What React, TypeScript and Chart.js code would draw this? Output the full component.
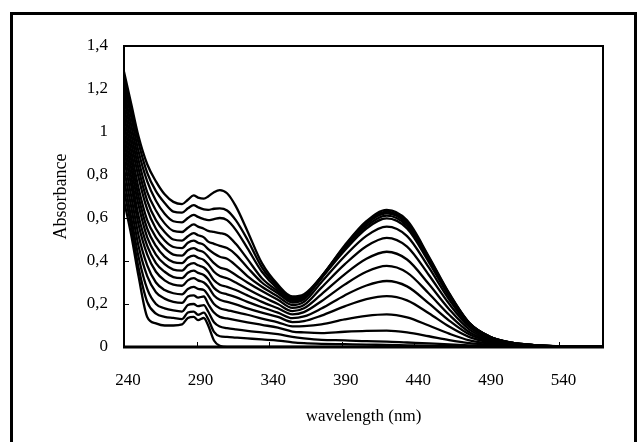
import { useEffect, useRef } from 'react';
import { Chart, registerables } from 'chart.js';

Chart.register(...registerables);

// wavelength grid (nm)
const wavelength = [240, 245, 250, 256, 262, 268, 274, 280, 284, 288, 291, 295, 298, 302, 306, 311, 317, 325, 335, 346, 356, 364, 376, 392, 407, 421, 435, 450, 464, 478, 492, 507, 524, 544, 570];

const xTickValues = [240, 290, 340, 390, 440, 490, 540];
const yTickValues = [0, 0.2, 0.4, 0.6, 0.8, 1, 1.2, 1.4];
const yTickLabels = ['0', '0,2', '0,4', '0,6', '0,8', '1', '1,2', '1,4'];

// absorbance spectra, lowest (s01) to highest (s16)
const s01 = [0.68, 0.52, 0.33, 0.14, 0.11, 0.10, 0.10, 0.105, 0.135, 0.14, 0.125, 0.135, 0.10, 0.03, 0.005, 0, 0, 0, 0, 0, 0, 0, 0, 0, 0, 0, 0, 0, 0, 0, 0, 0, 0, 0, 0];
const s02 = [0.73, 0.56, 0.37, 0.21, 0.155, 0.14, 0.135, 0.13, 0.16, 0.165, 0.15, 0.16, 0.13, 0.07, 0.05, 0.047, 0.044, 0.04, 0.035, 0.03, 0.022, 0.018, 0.015, 0.013, 0.011, 0.010, 0.008, 0.006, 0.005, 0.003, 0.002, 0.001, 0, 0, 0];
const s03 = [0.78, 0.60, 0.42, 0.27, 0.20, 0.18, 0.17, 0.165, 0.195, 0.20, 0.19, 0.195, 0.165, 0.115, 0.095, 0.088, 0.082, 0.075, 0.068, 0.06, 0.047, 0.04, 0.033, 0.031, 0.027, 0.025, 0.021, 0.017, 0.012, 0.008, 0.005, 0.002, 0.001, 0, 0];
const s04 = [0.83, 0.65, 0.47, 0.33, 0.255, 0.225, 0.21, 0.205, 0.235, 0.24, 0.23, 0.235, 0.20, 0.16, 0.14, 0.133, 0.125, 0.115, 0.103, 0.09, 0.072, 0.068, 0.065, 0.071, 0.075, 0.076, 0.068, 0.050, 0.032, 0.018, 0.010, 0.005, 0.002, 0.001, 0];
const s05 = [0.88, 0.70, 0.52, 0.38, 0.30, 0.265, 0.25, 0.245, 0.27, 0.28, 0.27, 0.265, 0.24, 0.20, 0.18, 0.172, 0.162, 0.15, 0.132, 0.115, 0.096, 0.097, 0.105, 0.128, 0.145, 0.152, 0.138, 0.100, 0.062, 0.031, 0.016, 0.007, 0.003, 0.001, 0];
const s06 = [0.92, 0.75, 0.57, 0.43, 0.35, 0.31, 0.29, 0.285, 0.31, 0.32, 0.31, 0.30, 0.28, 0.24, 0.22, 0.21, 0.198, 0.18, 0.16, 0.14, 0.116, 0.12, 0.146, 0.189, 0.223, 0.237, 0.217, 0.157, 0.095, 0.046, 0.022, 0.010, 0.004, 0.001, 0];
const s07 = [0.96, 0.79, 0.61, 0.47, 0.39, 0.35, 0.325, 0.32, 0.345, 0.355, 0.345, 0.335, 0.315, 0.275, 0.255, 0.245, 0.232, 0.21, 0.185, 0.16, 0.134, 0.142, 0.179, 0.240, 0.286, 0.307, 0.282, 0.203, 0.123, 0.058, 0.026, 0.011, 0.005, 0.001, 0];
const s08 = [1.00, 0.83, 0.66, 0.51, 0.43, 0.385, 0.36, 0.355, 0.38, 0.39, 0.38, 0.37, 0.35, 0.31, 0.29, 0.28, 0.265, 0.24, 0.21, 0.18, 0.152, 0.162, 0.213, 0.290, 0.350, 0.377, 0.346, 0.249, 0.150, 0.069, 0.031, 0.013, 0.006, 0.002, 0];
const s09 = [1.04, 0.87, 0.70, 0.55, 0.47, 0.42, 0.395, 0.39, 0.415, 0.425, 0.415, 0.405, 0.385, 0.35, 0.33, 0.32, 0.30, 0.27, 0.235, 0.20, 0.167, 0.18, 0.245, 0.338, 0.410, 0.443, 0.407, 0.293, 0.176, 0.081, 0.036, 0.015, 0.006, 0.002, 0];
const s10 = [1.08, 0.91, 0.74, 0.59, 0.51, 0.46, 0.43, 0.425, 0.45, 0.46, 0.45, 0.44, 0.42, 0.39, 0.37, 0.36, 0.335, 0.30, 0.26, 0.22, 0.182, 0.195, 0.276, 0.384, 0.469, 0.508, 0.467, 0.335, 0.201, 0.092, 0.040, 0.017, 0.007, 0.002, 0];
const s11 = [1.12, 0.95, 0.79, 0.64, 0.55, 0.495, 0.465, 0.46, 0.485, 0.495, 0.485, 0.475, 0.455, 0.435, 0.42, 0.41, 0.38, 0.33, 0.28, 0.235, 0.195, 0.21, 0.301, 0.422, 0.517, 0.560, 0.516, 0.370, 0.221, 0.100, 0.044, 0.018, 0.008, 0.003, 0];
const s12 = [1.16, 0.99, 0.83, 0.68, 0.59, 0.535, 0.50, 0.495, 0.515, 0.53, 0.52, 0.51, 0.49, 0.48, 0.47, 0.46, 0.43, 0.37, 0.30, 0.25, 0.207, 0.222, 0.319, 0.449, 0.551, 0.598, 0.551, 0.395, 0.236, 0.107, 0.047, 0.020, 0.008, 0.003, 0];
const s13 = [1.19, 1.03, 0.87, 0.72, 0.635, 0.575, 0.54, 0.535, 0.555, 0.57, 0.56, 0.55, 0.54, 0.535, 0.53, 0.52, 0.48, 0.41, 0.32, 0.26, 0.215, 0.228, 0.322, 0.457, 0.562, 0.611, 0.563, 0.403, 0.241, 0.109, 0.047, 0.020, 0.008, 0.003, 0];
const s14 = [1.22, 1.07, 0.91, 0.77, 0.68, 0.62, 0.585, 0.58, 0.60, 0.615, 0.605, 0.595, 0.59, 0.595, 0.60, 0.59, 0.545, 0.46, 0.35, 0.27, 0.222, 0.235, 0.327, 0.465, 0.572, 0.622, 0.573, 0.411, 0.245, 0.110, 0.048, 0.020, 0.008, 0.003, 0];
const s15 = [1.25, 1.10, 0.95, 0.81, 0.725, 0.67, 0.63, 0.625, 0.645, 0.66, 0.65, 0.64, 0.638, 0.643, 0.645, 0.635, 0.59, 0.50, 0.37, 0.28, 0.228, 0.24, 0.327, 0.468, 0.579, 0.630, 0.581, 0.416, 0.248, 0.111, 0.048, 0.020, 0.008, 0.003, 0];
const s16 = [1.28, 1.13, 0.98, 0.85, 0.77, 0.71, 0.675, 0.665, 0.685, 0.705, 0.695, 0.69, 0.70, 0.72, 0.73, 0.715, 0.655, 0.54, 0.39, 0.29, 0.235, 0.245, 0.328, 0.472, 0.585, 0.638, 0.589, 0.421, 0.251, 0.112, 0.048, 0.019, 0.008, 0.003, 0];

const spectra = [s01, s02, s03, s04, s05, s06, s07, s08, s09, s10, s11, s12, s13, s14, s15, s16];

const FONT = "'Liberation Serif', 'Times New Roman', serif";

const framePlugin = {
  id: 'frame',
  afterDatasetsDraw(chart: any) {
    const { ctx, chartArea: a, scales } = chart;
    ctx.save();
    ctx.strokeStyle = '#000';
    ctx.lineWidth = 1;
    ctx.beginPath();
    for (const v of xTickValues) {
      if (v === 240) continue;
      const px = Math.round(scales.x.getPixelForValue(v)) + 0.5;
      ctx.moveTo(px, a.bottom);
      ctx.lineTo(px, a.bottom - 5);
    }
    for (const v of yTickValues) {
      if (v === 0) continue;
      const py = Math.round(scales.y.getPixelForValue(v)) + 0.5;
      ctx.moveTo(a.left, py);
      ctx.lineTo(a.left + 5, py);
    }
    ctx.stroke();
    ctx.lineWidth = 2;
    ctx.strokeRect(a.left, a.top, a.right - a.left, a.bottom - a.top);
    ctx.lineWidth = 3;
    ctx.beginPath();
    ctx.moveTo(a.left - 1, a.bottom);
    ctx.lineTo(a.right + 1, a.bottom);
    ctx.stroke();
    ctx.restore();
  },
};

export default function App() {
  const canvasRef = useRef<HTMLCanvasElement | null>(null);

  useEffect(() => {
    if (!canvasRef.current) return;
    const chart = new Chart(canvasRef.current, {
      type: 'line',
      data: {
        datasets: spectra.map((s, i) => ({
          label: `spectrum ${i + 1}`,
          data: wavelength.map((w, j) => ({ x: w, y: s[j] })),
          borderColor: '#000',
          borderWidth: 2.3,
          pointRadius: 0,
          fill: false,
          cubicInterpolationMode: 'monotone' as const,
        })),
      },
      options: {
        animation: false,
        responsive: false,
        devicePixelRatio: 1,
        layout: { padding: { left: 0, top: 46, right: 34, bottom: 0 } },
        plugins: { legend: { display: false }, tooltip: { enabled: false } },
        scales: {
          x: {
            type: 'linear',
            min: 240,
            max: 570,
            afterBuildTicks: (s: any) => {
              s.ticks = xTickValues.map((v) => ({ value: v }));
            },
            afterFit: (s: any) => {
              s.height = 95;
            },
            grid: { display: false, drawTicks: false },
            border: { display: false },
            ticks: {
              color: '#000',
              font: { family: FONT, size: 17 },
              padding: 23,
              labelOffset: 4,
              maxRotation: 0,
              autoSkip: false,
              callback: (v: any) => String(v),
            },
            title: {
              display: true,
              text: 'wavelength (nm)',
              color: '#000',
              font: { family: FONT, size: 17 },
              padding: { top: 0, bottom: 15 },
            },
          },
          y: {
            type: 'linear',
            min: 0,
            max: 1.4,
            afterBuildTicks: (s: any) => {
              s.ticks = yTickValues.map((v) => ({ value: v }));
            },
            afterFit: (s: any) => {
              s.width = 124;
            },
            grid: { display: false, drawTicks: false },
            border: { display: false },
            ticks: {
              color: '#000',
              font: { family: FONT, size: 17 },
              padding: 16,
              callback: (v: any) => {
                const k = yTickValues.findIndex((t) => Math.abs(t - v) < 1e-6);
                return k >= 0 ? yTickLabels[k] : '';
              },
            },
            title: {
              display: true,
              text: 'Absorbance',
              color: '#000',
              font: { family: FONT, size: 18 },
              padding: { top: 50, bottom: 0 },
            },
          },
        },
      },
      plugins: [framePlugin],
    });
    return () => chart.destroy();
  }, []);

  return (
    <div style={{ position: 'absolute', left: 0, top: 0, width: 637, height: 442, overflow: 'hidden', background: '#fff' }}>
      <canvas ref={canvasRef} width={637} height={442} style={{ position: 'absolute', left: 0, top: 0 }} />
      <div
        style={{
          position: 'absolute',
          left: 10,
          top: 12,
          width: 621,
          height: 520,
          border: '3px solid #000',
          pointerEvents: 'none',
        }}
      />
    </div>
  );
}
